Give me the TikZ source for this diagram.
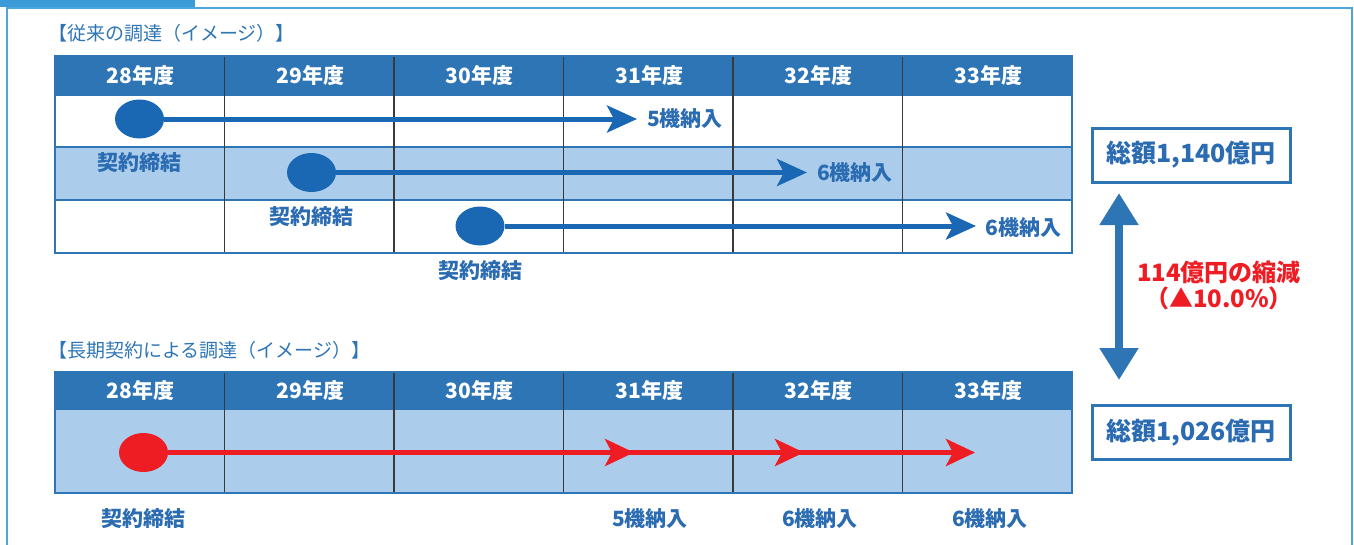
\documentclass[tikz,border=0pt]{standalone}
\usepackage{fontspec}
\setmainfont{Noto Sans CJK JP}
\usetikzlibrary{arrows.meta,shapes.geometric}
\definecolor{hdr}{HTML}{2E75B6}
\definecolor{lightfill}{HTML}{ABCDEB}
\definecolor{dotc}{HTML}{1A68B4}
\definecolor{txt}{HTML}{2A6BB1}
\definecolor{frm}{HTML}{4AA6DD}
\definecolor{frmbar}{HTML}{3A9BD6}
\definecolor{redc}{HTML}{EE1D23}
\definecolor{gridc}{HTML}{3A3A3A}
\begin{document}
\begin{tikzpicture}[x=1pt,y=-1pt,
  hdrtext/.style={text=white, font=\fontsize{21}{21}\selectfont\bfseries, inner sep=0pt},
  lbl/.style={text=txt, font=\fontsize{21}{21}\selectfont\bfseries, inner sep=0pt},
  titletext/.style={text=hdr, font=\fontsize{19}{19}\selectfont, inner sep=0pt, anchor=west},
  dotnode/.style={ellipse, fill=dotc, minimum width=49pt, minimum height=39pt, inner sep=0pt},
  reddot/.style={ellipse, fill=redc, minimum width=49pt, minimum height=39pt, inner sep=0pt},
  flow/.style={draw=dotc, line width=5pt, -{Stealth[length=30pt,width=27pt,inset=7pt]}},
  redflow/.style={draw=redc, line width=5pt, -{Stealth[length=29pt,width=27pt,inset=7pt]}},
  totbox/.style={draw=hdr, line width=3pt, fill=white, minimum width=198pt, minimum height=54pt, inner sep=0pt,
    text=txt, font=\fontsize{25}{25}\selectfont\bfseries},
  gridline/.style={draw=gridc, line width=1.5pt},
  rowline/.style={draw=hdr, line width=1.2pt},
  outline/.style={draw=hdr, line width=2.5pt}
]
\useasboundingbox (0,0) rectangle (1354,544);
% frame
\fill[frmbar] (0,0) rectangle (195,7);
\draw[frm, line width=2pt] (7,546) -- (7,8) -- (1352,8) -- (1352,546);

% ===== top table =====
\node[titletext] (t1) at (48,33) {【従来の調達（イメージ）】};
\fill[hdr] (55,56) rectangle (1072,95);
\fill[lightfill] (55,147) rectangle (1072,200);
\draw[rowline] (55,147) -- (1072,147);
\draw[rowline] (55,200) -- (1072,200);
\draw[rowline] (55,95) -- (1072,95);
\foreach \k in {1,...,5} {
  \draw[gridline] ({55+169.5*\k},56) -- ({55+169.5*\k},253);
}
\draw[outline] (55,56) rectangle (1072,253);
\foreach \i/\yr in {0/28,1/29,2/30,3/31,4/32,5/33} {
  \node[hdrtext] (ha\i) at ({140.75+169.5*\i},76) {\yr 年度};
}
% row 1
\node[dotnode] (c1) at (139.5,119) {};
\coordinate (e1) at (637,119);
\draw[flow] (c1.east) -- (e1);
\node[lbl, anchor=west] (n1) at (647,119) {5機納入};
\node[lbl] (k1) at (139.5,163) {契約締結};
% row 2
\node[dotnode] (c2) at (311.5,172.5) {};
\coordinate (e2) at (807,172.5);
\draw[flow] (c2.east) -- (e2);
\node[lbl, anchor=west] (n2) at (817,173) {6機納入};
\node[lbl] (k2) at (311.5,217) {契約締結};
% row 3
\node[dotnode] (c3) at (480,226) {};
\coordinate (e3) at (976,226);
\draw[flow] (c3.east) -- (e3);
\node[lbl, anchor=west] (n3) at (985,228) {6機納入};
\node[lbl] (k3) at (480,271) {契約締結};

% ===== bottom table =====
\node[titletext] (t2) at (48,350) {【長期契約による調達（イメージ）】};
\fill[lightfill] (55,410) rectangle (1072,493);
\fill[hdr] (55,372) rectangle (1072,410);
\foreach \k in {1,...,5} {
  \draw[gridline] ({55+169.5*\k},372) -- ({55+169.5*\k},493);
}
\draw[outline] (55,372) rectangle (1072,493);
\foreach \i/\yr in {0/28,1/29,2/30,3/31,4/32,5/33} {
  \node[hdrtext] (hb\i) at ({140.75+169.5*\i},391) {\yr 年度};
}
\node[reddot] (r0) at (143.5,452.5) {};
\coordinate (d1) at (634,452.5);
\coordinate (d2) at (804,452.5);
\coordinate (d3) at (975,452.5);
\coordinate (d3b) at (955,452.5);
\draw[redc, line width=5pt] (r0.east) -- (d3b);
\draw[redflow] (r0.east) -- (d1);
\draw[redflow] (d1) -- (d2);
\draw[redflow] (d2) -- (d3);
\node[lbl] (kb) at (143.5,519) {契約締結};
\node[lbl] (m1) at (650,519) {5機納入};
\node[lbl] (m2) at (820,519) {6機納入};
\node[lbl] (m3) at (990,519) {6機納入};

% ===== totals =====
\node[totbox] (tot1) at (1191,155) {総額1,140億円};
\node[totbox] (tot2) at (1191,432.5) {総額1,026億円};
\coordinate (up) at (1119,193);
\coordinate (dn) at (1119,380);
\draw[hdr, line width=8pt, {Triangle[length=32pt,width=37pt]}-{Triangle[length=32pt,width=37pt]}] (up) -- (dn);
\node[text=redc, font=\fontsize{24}{26}\selectfont\bfseries, align=center, inner sep=0pt] (cut) at (1219,285)
  {114億円の縮減\\（▲10.0\%）};
\end{tikzpicture}
\end{document}
